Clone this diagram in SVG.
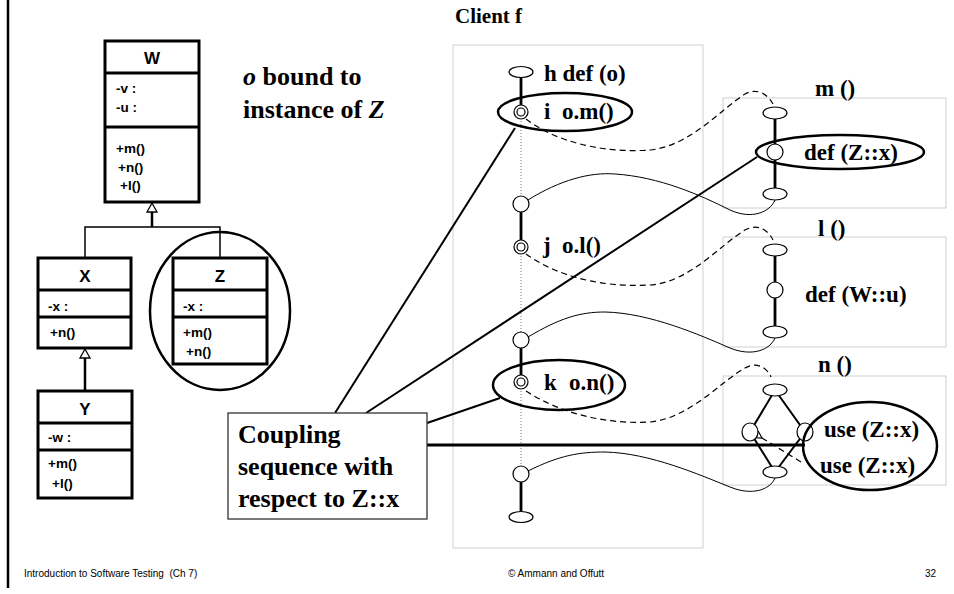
<svg xmlns="http://www.w3.org/2000/svg" width="954" height="594" viewBox="0 0 954 594">
<style>
.cls{fill:#fff;stroke:#000;stroke-width:3}
.sep{stroke:#000;stroke-width:3}
.ct{font-family:"Liberation Sans",Arial,sans-serif;font-weight:bold;font-size:17px;text-anchor:middle}
.mt{font-family:"Liberation Sans",Arial,sans-serif;font-weight:bold;font-size:13.5px}
.sf{font-family:"Liberation Serif","Times New Roman",serif;font-weight:bold}
.big{font-size:26px}
.lbl{font-size:23px}
.box{fill:none;stroke:#cfcfcf;stroke-width:1}
.node{fill:#fff;stroke:#000;stroke-width:1.2}
.thick{stroke:#000;stroke-width:2.8;fill:none}
.mid{stroke:#000;stroke-width:2;fill:none}
.thin{stroke:#000;stroke-width:1;fill:none}
.dash{stroke:#000;stroke-width:1.2;fill:none;stroke-dasharray:6,4}
.hl{fill:none;stroke:#000;stroke-width:2.5}
.ft{font-family:"Liberation Sans",Arial,sans-serif;font-size:10px}
</style>
<defs>
<marker id="arr" markerWidth="12" markerHeight="12" refX="1" refY="5" orient="auto" markerUnits="userSpaceOnUse">
<path d="M8,1 L1,5 L8,9" fill="none" stroke="#000" stroke-width="1.2"/>
</marker>
</defs>
<rect width="954" height="594" fill="#fff"/>
<line x1="8" y1="0" x2="8" y2="588" stroke="#000" stroke-width="2.5"/>

<!-- UML classes -->
<g id="class-W">
<rect class="cls" x="105" y="41" width="94" height="161"/>
<line class="sep" x1="105" y1="73" x2="199" y2="73"/>
<line class="sep" x1="105" y1="127" x2="199" y2="127"/>
<text class="ct" x="152" y="64">W</text>
<text class="mt" x="116" y="93">-v :</text>
<text class="mt" x="116" y="112">-u :</text>
<text class="mt" x="116" y="153">+m()</text>
<text class="mt" x="118" y="172">+n()</text>
<text class="mt" x="120" y="190">+l()</text>
</g>
<g id="class-X">
<rect class="cls" x="38" y="258" width="93" height="90"/>
<line class="sep" x1="38" y1="290" x2="131" y2="290"/>
<line class="sep" x1="38" y1="317" x2="131" y2="317"/>
<text class="ct" x="85" y="282">X</text>
<text class="mt" x="48" y="311">-x :</text>
<text class="mt" x="50" y="337">+n()</text>
</g>
<g id="class-Z">
<rect class="cls" x="173" y="258" width="94" height="106"/>
<line class="sep" x1="173" y1="290" x2="267" y2="290"/>
<line class="sep" x1="173" y1="317" x2="267" y2="317"/>
<text class="ct" x="220" y="282">Z</text>
<text class="mt" x="183" y="311">-x :</text>
<text class="mt" x="183" y="337">+m()</text>
<text class="mt" x="186" y="356">+n()</text>
<ellipse cx="220" cy="311" rx="70" ry="79" fill="none" stroke="#000" stroke-width="2.5"/>
</g>
<g id="class-Y">
<rect class="cls" x="38" y="391" width="94" height="107"/>
<line class="sep" x1="38" y1="423" x2="132" y2="423"/>
<line class="sep" x1="38" y1="450" x2="132" y2="450"/>
<text class="ct" x="85" y="415">Y</text>
<text class="mt" x="48" y="442">-w :</text>
<text class="mt" x="48" y="468">+m()</text>
<text class="mt" x="52" y="488">+l()</text>
</g>

<!-- inheritance -->
<g id="inheritance">
<polyline points="85,258 85,227 220,227 220,258" fill="none" stroke="#000" stroke-width="1.5"/>
<line x1="152" y1="212" x2="152" y2="227" stroke="#000" stroke-width="2.5"/>
<polygon points="152,203 147,212 157,212" fill="#fff" stroke="#000" stroke-width="1.3"/>
<line x1="85" y1="358" x2="85" y2="391" stroke="#000" stroke-width="2.5"/>
<polygon points="85,349 80,358 90,358" fill="#fff" stroke="#000" stroke-width="1.3"/>
</g>

<text class="sf big" x="243" y="85"><tspan font-style="italic">o</tspan> bound to</text>
<text class="sf big" x="243" y="118">instance of <tspan font-style="italic">Z</tspan></text>

<!-- boxes -->
<g id="client-f">
<rect class="box" x="453" y="45" width="250" height="503"/>
<text class="sf" font-size="21" x="455" y="23">Client f</text>
</g>
<g id="method-m">
<rect class="box" x="723" y="98" width="223" height="110"/>
<text class="sf lbl" x="815" y="96">m ()</text>
</g>
<g id="method-l">
<rect class="box" x="723" y="237" width="223" height="110"/>
<text class="sf lbl" x="818" y="236">l ()</text>
</g>
<g id="method-n">
<rect class="box" x="723" y="376" width="223" height="109"/>
<text class="sf lbl" x="818" y="372">n ()</text>
</g>

<!-- connectors -->
<g id="connectors">
<line x1="521" y1="118" x2="521" y2="466" stroke="#777" stroke-width="1" stroke-dasharray="1,2"/>
<line class="thick" x1="521" y1="77" x2="521" y2="105"/>
<line class="thick" x1="521" y1="211" x2="521" y2="240"/>
<line class="thick" x1="521" y1="348" x2="521" y2="375"/>
<line class="thick" x1="521" y1="482" x2="521" y2="511"/>
<line class="thick" x1="775" y1="119" x2="775" y2="188"/>
<line class="thick" x1="775" y1="256" x2="775" y2="326"/>
<polyline class="mid" points="750,432 775,390 805,432 775,472 750,432"/>
<path class="dash" d="M526,119 C560,145 610,153 650,150 C690,146 720,110 745,94 C758,87 768,95 773,104"/>
<path class="dash" d="M526,254 C555,275 600,288 650,285 C690,282 720,245 745,230 C758,223 768,230 773,240"/>
<path class="dash" d="M526,391 C555,410 600,425 650,422 C690,418 720,382 745,368 C757,361 767,368 771,377"/>
<path class="thin" d="M528,200 C560,180 590,172 615,174 C660,177 700,195 730,210 C752,220 770,212 775,200"/>
<path class="thin" d="M528,337 C560,318 580,312 605,312 C650,313 700,335 730,348 C752,357 770,350 775,338"/>
<path class="thin" d="M528,471 C560,455 580,452 605,452 C650,453 700,475 730,487 C752,496 770,490 775,478"/>
<line x1="801" y1="462" x2="762" y2="438" stroke="#000" stroke-width="1.2" stroke-dasharray="6,4" marker-end="url(#arr)"/>
<line x1="515" y1="128" x2="335" y2="413" stroke="#000" stroke-width="2"/>
<line x1="757" y1="157" x2="366" y2="413" stroke="#000" stroke-width="2"/>
<line x1="500" y1="398" x2="427" y2="423" stroke="#000" stroke-width="2"/>
<line x1="427" y1="445" x2="805" y2="445" stroke="#000" stroke-width="3"/>
</g>

<!-- client nodes -->
<g id="node-h">
<ellipse class="node" cx="521" cy="72" rx="12" ry="5.5"/>
<text class="sf lbl" x="544" y="81">h def (o)</text>
</g>
<g id="node-i">
<circle class="node" cx="521" cy="112" r="7"/>
<circle class="node" cx="521" cy="112" r="4"/>
<text class="sf lbl" x="544" y="119">i <tspan x="562">o.m()</tspan></text>
<ellipse class="hl" cx="565" cy="112" rx="67" ry="19"/>
</g>
<g id="node-c1"><circle class="node" cx="521" cy="204" r="8"/></g>
<g id="node-j">
<circle class="node" cx="521" cy="247" r="7"/>
<circle class="node" cx="521" cy="247" r="4"/>
<text class="sf lbl" x="543" y="253">j <tspan x="562">o.l()</tspan></text>
</g>
<g id="node-c2"><circle class="node" cx="521" cy="340" r="8"/></g>
<g id="node-k">
<circle class="node" cx="521" cy="382" r="7"/>
<circle class="node" cx="521" cy="382" r="4"/>
<text class="sf lbl" x="544" y="390">k <tspan x="569">o.n()</tspan></text>
<ellipse class="hl" cx="559" cy="385" rx="66" ry="25"/>
</g>
<g id="node-c3"><circle class="node" cx="521" cy="474" r="8"/></g>
<g id="node-end"><ellipse class="node" cx="521" cy="517" rx="12" ry="5.5"/></g>

<!-- m nodes -->
<g id="m-start"><ellipse class="node" cx="775" cy="113" rx="12" ry="6"/></g>
<g id="m-def">
<circle class="node" cx="775" cy="152" r="8"/>
<text class="sf lbl" x="804" y="160">def (Z::x)</text>
<ellipse class="hl" cx="840" cy="152" rx="84" ry="17"/>
</g>
<g id="m-end"><ellipse class="node" cx="775" cy="194" rx="12" ry="6"/></g>

<!-- l nodes -->
<g id="l-start"><ellipse class="node" cx="775" cy="250" rx="12" ry="6"/></g>
<g id="l-def">
<circle class="node" cx="775" cy="290" r="8"/>
<text class="sf lbl" x="805" y="302">def (W::u)</text>
</g>
<g id="l-end"><ellipse class="node" cx="775" cy="332" rx="12" ry="6"/></g>

<!-- n nodes -->
<g id="n-start"><ellipse class="node" cx="775" cy="390" rx="12" ry="6"/></g>
<g id="n-left"><ellipse class="node" cx="750" cy="432" rx="8" ry="9"/></g>
<g id="n-right"><ellipse class="node" cx="805" cy="432" rx="8" ry="9"/></g>
<g id="n-end"><ellipse class="node" cx="775" cy="472" rx="12" ry="6"/></g>
<g id="n-uses">
<text class="sf lbl" x="824" y="437">use (Z::x)</text>
<text class="sf lbl" x="820" y="473">use (Z::x)</text>
<ellipse class="hl" cx="870" cy="446" rx="67" ry="44"/>
</g>

<!-- coupling note -->
<g id="coupling-note">
<rect x="228" y="413" width="199" height="106" fill="#fff" stroke="#333" stroke-width="1.3"/>
<text class="sf" font-size="26" x="238" y="443">Coupling</text>
<text class="sf" font-size="26" x="238" y="475">sequence with</text>
<text class="sf" font-size="26" x="238" y="507">respect to Z::x</text>
</g>

<!-- footer -->
<text class="ft" x="24" y="577" xml:space="preserve">Introduction to Software Testing  (Ch 7)</text>
<text class="ft" x="508" y="577">© Ammann and Offutt</text>
<text class="ft" x="925" y="577">32</text>
</svg>
